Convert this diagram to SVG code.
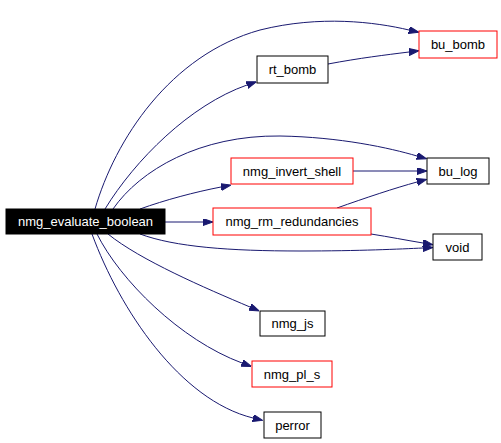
<svg xmlns="http://www.w3.org/2000/svg" width="501" height="443" viewBox="0 0 501 443">
<style>
.n rect{fill:#fff;stroke:#000;stroke-width:1}
.n.r rect{stroke:#f00}
.n text{font-family:"Liberation Sans",Arial,sans-serif;font-size:13px;text-anchor:middle;fill:#000}
#main rect{fill:#000;stroke:#000}
#main text{fill:#fff}
.e path{fill:none;stroke:#191970;stroke-width:1;marker-end:url(#ah)}
</style>
<defs>
<marker id="ah" markerUnits="userSpaceOnUse" markerWidth="10" markerHeight="8" refX="0" refY="3.5" orient="auto">
<path d="M0,0 L10,3.5 L0,7 z" fill="#191970" stroke="#191970" stroke-width="1"/>
</marker>
</defs>
<rect width="501" height="443" fill="#fff"/>
<g class="e" id="edges">
<path d="M95,209 C115,140 170,55 260,30 C320,15 375,22 409,30"/>
<path d="M105,209 C135,160 190,105 247,85"/>
<path d="M113,209 C140,170 200,135 280,136 C340,137 390,148 417,156"/>
<path d="M140,209 C165,200 195,192 221,187"/>
<path d="M165,222 L203,222"/>
<path d="M140,234 C175,247 230,251 300,251 C360,251 400,249 423,248"/>
<path d="M108,234 C140,260 205,288 250,307"/>
<path d="M97,234 C120,280 180,340 242,363"/>
<path d="M92,234 C120,310 180,400 253,418"/>
<path d="M328,64 C360,58 385,55 409,52"/>
<path d="M353,171 L417,171"/>
<path d="M337,208 C365,198 395,188 417,182"/>
<path d="M371,234 C390,237 405,240 423,243"/>
</g>
<g class="n" id="main"><rect x="6" y="209" width="159" height="25"/><text x="85.5" y="226">nmg_evaluate_boolean</text></g>
<g class="n r" id="bu_bomb"><rect x="419" y="31" width="78" height="27"/><text x="458" y="49">bu_bomb</text></g>
<g class="n" id="rt_bomb"><rect x="257" y="56" width="71" height="27"/><text x="292.5" y="74">rt_bomb</text></g>
<g class="n r" id="nmg_invert_shell"><rect x="231" y="158" width="122" height="26"/><text x="292" y="175.5">nmg_invert_shell</text></g>
<g class="n" id="bu_log"><rect x="427" y="158" width="62" height="26"/><text x="458" y="175.5">bu_log</text></g>
<g class="n r" id="nmg_rm_redundancies"><rect x="213" y="208" width="158" height="27"/><text x="292" y="226">nmg_rm_redundancies</text></g>
<g class="n" id="void"><rect x="433" y="234" width="49" height="26"/><text x="457.5" y="251.5">void</text></g>
<g class="n" id="nmg_js"><rect x="260" y="311" width="65" height="25"/><text x="292.5" y="328">nmg_js</text></g>
<g class="n r" id="nmg_pl_s"><rect x="252" y="361" width="80" height="26"/><text x="292" y="378.5">nmg_pl_s</text></g>
<g class="n" id="perror"><rect x="264" y="412" width="57" height="26"/><text x="292.5" y="429.5">perror</text></g>
</svg>
